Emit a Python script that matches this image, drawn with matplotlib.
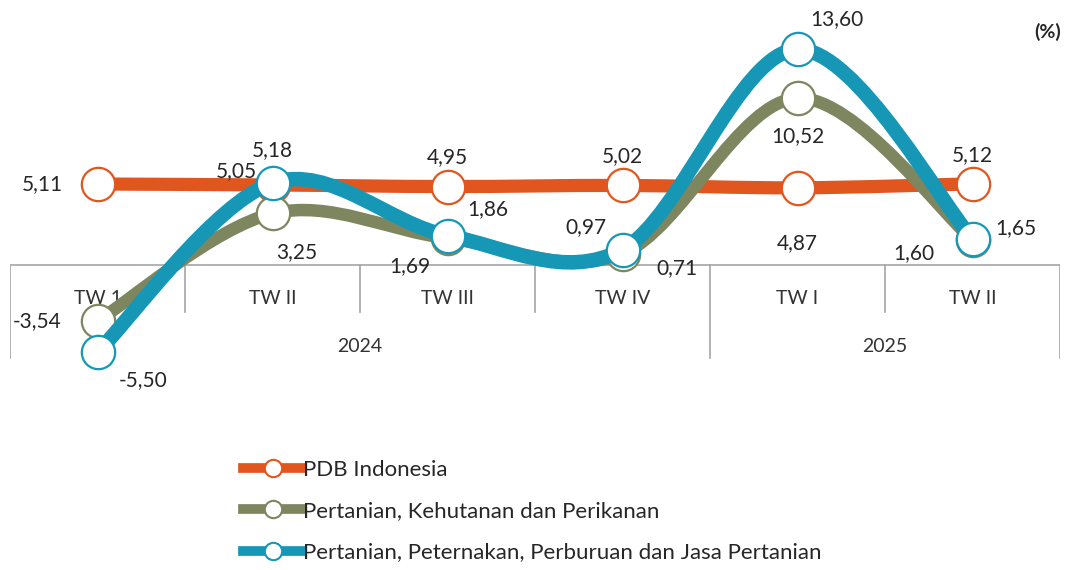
import matplotlib.pyplot as plt
from matplotlib.path import Path
from matplotlib.patches import PathPatch
from matplotlib.lines import Line2D

plt.rcParams['font.family'] = ['Lato', 'DejaVu Sans']

# data
quarters = ['TW 1', 'TW II', 'TW III', 'TW IV', 'TW I', 'TW II']
years = ['2024', '2025']
year_span = [(0, 3), (4, 5)]
pdb = [5.11, 5.05, 4.95, 5.02, 4.87, 5.12]
kehutanan = [-3.54, 3.25, 1.69, 0.71, 10.52, 1.60]
peternakan = [-5.50, 5.18, 1.86, 0.97, 13.60, 1.65]
names = ['PDB Indonesia',
         'Pertanian, Kehutanan dan Perikanan',
         'Pertanian, Peternakan, Perburuan dan Jasa Pertanian']

c_pdb = '#E0561E'
c_keh = '#7E8660'
c_pet = '#1797B6'
grid_c = '#A6A6A6'

# label offsets (pixels, up = positive) for each point
off_pdb = [(-55, 0), (-36, 14), (0, 29), (0, 29), (0, -55), (0, 29)]
off_keh = [(-60, 0), (24, -39), (-38, -28), (54, -14), (0, -38), (-59, -13)]
off_pet = [(46, -28), (0, 33), (40, 26), (-37, 23), (39, 30), (43, 11)]

PX = 15.85  # pixels per unit


def smooth_path(ys):
    # excel-like smoothed line (catmull-rom as cubic bezier)
    xs = list(range(len(ys)))
    pts = list(zip(xs, ys))
    verts = [pts[0]]
    codes = [Path.MOVETO]
    n = len(pts)
    for i in range(n - 1):
        p0 = pts[max(i - 1, 0)]
        p1 = pts[i]
        p2 = pts[i + 1]
        p3 = pts[min(i + 2, n - 1)]
        c1 = (p1[0] + (p2[0] - p0[0]) / 6, p1[1] + (p2[1] - p0[1]) / 6)
        c2 = (p2[0] - (p3[0] - p1[0]) / 6, p2[1] - (p3[1] - p1[1]) / 6)
        verts += [c1, c2, p2]
        codes += [Path.CURVE4] * 3
    return Path(verts, codes)


fig = plt.figure(figsize=(10.69, 5.70), dpi=100)
ax = fig.add_axes([10 / 1069, 1 - 400 / 570, 1050 / 1069, 390 / 570])
ax.set_xlim(-0.5, 5.5)
ax.set_ylim(-(400 - 265) / PX, (265 - 10) / PX)
ax.axis('off')


def py(p):
    return (265 - p) / PX


# category table
ax.plot([-0.5, 5.5], [0, 0], color=grid_c, lw=1.2, zorder=1)
for b in range(7):
    xb = b - 0.5
    full = xb in (-0.5, 3.5, 5.5)
    ax.plot([xb, xb], [0, py(358) if full else py(312)], color=grid_c, lw=1.2, zorder=1)
for i, q in enumerate(quarters):
    ax.text(i, py(298), q, ha='center', va='center', fontsize=14, color='#333333')
for yr, (a, b) in zip(years, year_span):
    ax.text((a + b) / 2, py(346), yr, ha='center', va='center', fontsize=14, color='#333333')

series = [(pdb, c_pdb, 9.5, off_pdb, 2),
          (kehutanan, c_keh, 9, off_keh, 3),
          (peternakan, c_pet, 10.5, off_pet, 4)]

for ys, col, lw, offs, z in series:
    ax.add_patch(PathPatch(smooth_path(ys), fill=False, edgecolor=col, lw=lw,
                           capstyle='round', joinstyle='round', zorder=z))
    ax.plot(range(len(ys)), ys, 'o', ms=24, mfc='white', mec=col, mew=1.6, zorder=z + 0.5)
    for i, v in enumerate(ys):
        ax.annotate(f'{v:.2f}'.replace('.', ','), (i, v),
                    xytext=(offs[i][0] * 0.72, offs[i][1] * 0.72), textcoords='offset points',
                    ha='center', va='center', fontsize=15, color='#262626', zorder=6)

fig.text(1048 / 1069, 1 - 32 / 570, '(%)', ha='center', va='center',
         fontsize=14, fontweight='bold', color='#262626')

handles = [Line2D([], [], color=c, lw=7, marker='o', ms=12.5, mfc='white', mec=c, mew=1.5)
           for c in (c_pdb, c_keh, c_pet)]
fig.legend(handles, names, loc='upper left', bbox_to_anchor=(232 / 1069, 1 - 449 / 570),
           frameon=False, fontsize=16, handlelength=2.65, handletextpad=0.03,
           labelspacing=0.95, borderpad=0, labelcolor='#262626')

fig.savefig('out.png', dpi=100)
